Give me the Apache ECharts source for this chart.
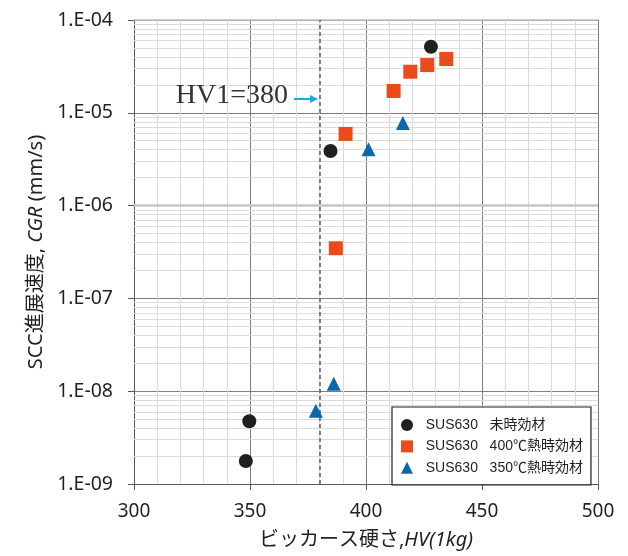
<!DOCTYPE html>
<html><head><meta charset="utf-8">
<script src="https://cdn.jsdelivr.net/npm/echarts@6/dist/echarts.min.js"></script>
<style>html,body{margin:0;padding:0;background:#fff}#c{width:628px;height:556px}</style>
</head><body><div id="c"></div>
<script>
// --- data ---
const nameAged0 = 'SUS630   未時効材';
const nameAged400 = 'SUS630   400℃熱時効材';
const nameAged350 = 'SUS630   350℃熱時効材';
const hvUnaged = [428, 384.7, 349.7, 348.2];
const cgrUnaged = [5.15e-5, 3.87e-6, 4.74e-9, 1.77e-9];
const hv400 = [434.6, 426.4, 419.1, 411.9, 391.2, 387.0];
const cgr400 = [3.80e-5, 3.27e-5, 2.77e-5, 1.72e-5, 5.92e-6, 3.47e-7];
const hv350 = [415.9, 401.1, 386.1, 378.4];
const cgr350 = [7.76e-6, 4.05e-6, 1.20e-8, 6.17e-9];
const hvThreshold = 380;
const xTicks = [300, 350, 400, 450, 500];
const yExponents = [-9, -8, -7, -6, -5, -4];

const zip = (a, b) => a.map((v, i) => [v, b[i]]);
const xMin = xTicks[0], xMax = xTicks[xTicks.length - 1];
const minorY = [];
for (let e = yExponents[0]; e < yExponents[yExponents.length - 1]; e++) {
  for (let k = 2; k <= 9; k++) {
    const v = k * Math.pow(10, e);
    minorY.push([{ coord: [xMin, v] }, { coord: [xMax, v] }]);
  }
}
const hLine = (v, color, width) => [
  { coord: [xMin, v], lineStyle: { color, width, type: 'solid' } },
  { coord: [xMax, v] }
];
const sansJP = '"Noto Sans", "Noto Sans CJK JP", sans-serif';
const chart = echarts.init(document.getElementById('c'));
chart.setOption({
  animation: false,
  backgroundColor: '#fff',
  grid: { left: 134, right: 30, top: 20, bottom: 72 },
  xAxis: {
    type: 'value', min: xMin, max: xMax, interval: 50,
    axisLine: { show: true, lineStyle: { color: '#595959', width: 1 } },
    axisTick: { show: true, inside: false, length: 6, lineStyle: { color: '#595959' } },
    axisLabel: { margin: 18, fontSize: 19, color: '#231f20', fontFamily: sansJP },
    splitLine: { show: true, lineStyle: { color: '#7f7f7f', width: 1 } },
    minorTick: { show: false, splitNumber: 5 },
    minorSplitLine: { show: true, lineStyle: { color: '#dcdcdc', width: 1 } },
    name: '{a|ビッカース硬さ,}{b|HV(1kg)}',
    nameLocation: 'middle', nameGap: 46,
    nameTextStyle: {
      rich: {
        a: { fontSize: 20, color: '#231f20', fontFamily: sansJP },
        b: { fontSize: 20, color: '#231f20', fontStyle: 'italic', fontFamily: sansJP }
      }
    }
  },
  yAxis: {
    type: 'log', logBase: 10,
    min: Math.pow(10, yExponents[0]), max: Math.pow(10, yExponents[yExponents.length - 1]),
    axisLine: { show: true, lineStyle: { color: '#595959', width: 1 } },
    axisTick: { show: true, inside: false, length: 6, lineStyle: { color: '#595959' } },
    axisLabel: {
      margin: 21, fontSize: 19.5, color: '#231f20', fontFamily: sansJP,
      formatter: v => { const e = Math.round(Math.log10(v)); return '1.E-' + String(-e).padStart(2, '0'); }
    },
    splitLine: { show: true, lineStyle: { color: '#7f7f7f', width: 1 } },
    name: '{a|SCC進展速度, }{b|CGR}{a| (mm/s)}',
    nameLocation: 'middle', nameGap: 88,
    nameTextStyle: {
      rich: {
        a: { fontSize: 20, color: '#231f20', fontFamily: sansJP },
        b: { fontSize: 20, color: '#231f20', fontStyle: 'italic', fontFamily: sansJP }
      }
    }
  },
  legend: {
    orient: 'vertical', left: 392, top: 407,
    padding: [11, 8, 10, 9], itemGap: 7.4, itemWidth: 12, itemHeight: 12,
    backgroundColor: '#fff', borderColor: '#231f20', borderWidth: 1.2,
    formatter: n => '  ' + n,
    textStyle: { fontSize: 14, color: '#231f20', fontFamily: '"Liberation Sans", "Noto Sans CJK JP", sans-serif' },
    data: [nameAged0, nameAged400, nameAged350]
  },
  graphic: [
    { type: 'text', right: 628 - 288, top: 82, z: 10,
      style: { text: 'HV1=380', font: '28px "Liberation Serif", serif', fill: '#333' } },
    { type: 'line', z: 10, shape: { x1: 294, y1: 99, x2: 312, y2: 99 },
      style: { stroke: '#1ea5e3', lineWidth: 2 } },
    { type: 'polygon', z: 10, shape: { points: [[318, 99], [310, 95], [310, 103]] },
      style: { fill: '#1ea5e3' } }
  ],
  series: [
    {
      type: 'scatter', data: [], silent: true, z: 1,
      markLine: {
        silent: true, symbol: 'none', label: { show: false }, animation: false, z: 1,
        lineStyle: { color: '#dcdcdc', width: 1, type: 'solid' },
        data: minorY
      }
    },
    {
      type: 'scatter', data: [], silent: true, z: 2,
      markLine: {
        silent: true, symbol: 'none', label: { show: false }, animation: false, z: 2,
        lineStyle: { color: '#555a66', width: 1.5, type: [4, 3] },
        data: [
          hLine(Math.pow(10, -6), '#c6c6c6', 2.5),
          hLine(Math.pow(10, -4), '#c0c0c0', 1.5),
          { xAxis: hvThreshold }
        ]
      }
    },
    { name: nameAged0, type: 'scatter', z: 5, symbol: 'circle', symbolSize: 14,
      itemStyle: { color: '#231f20', opacity: 1 }, data: zip(hvUnaged, cgrUnaged) },
    { name: nameAged400, type: 'scatter', z: 5, symbol: 'rect', symbolSize: 14,
      itemStyle: { color: '#e94b1b', opacity: 1 }, data: zip(hv400, cgr400) },
    { name: nameAged350, type: 'scatter', z: 5, symbol: 'triangle', symbolSize: 14,
      itemStyle: { color: '#0a69ab', opacity: 1 }, data: zip(hv350, cgr350) }
  ]
});
</script></body></html>
